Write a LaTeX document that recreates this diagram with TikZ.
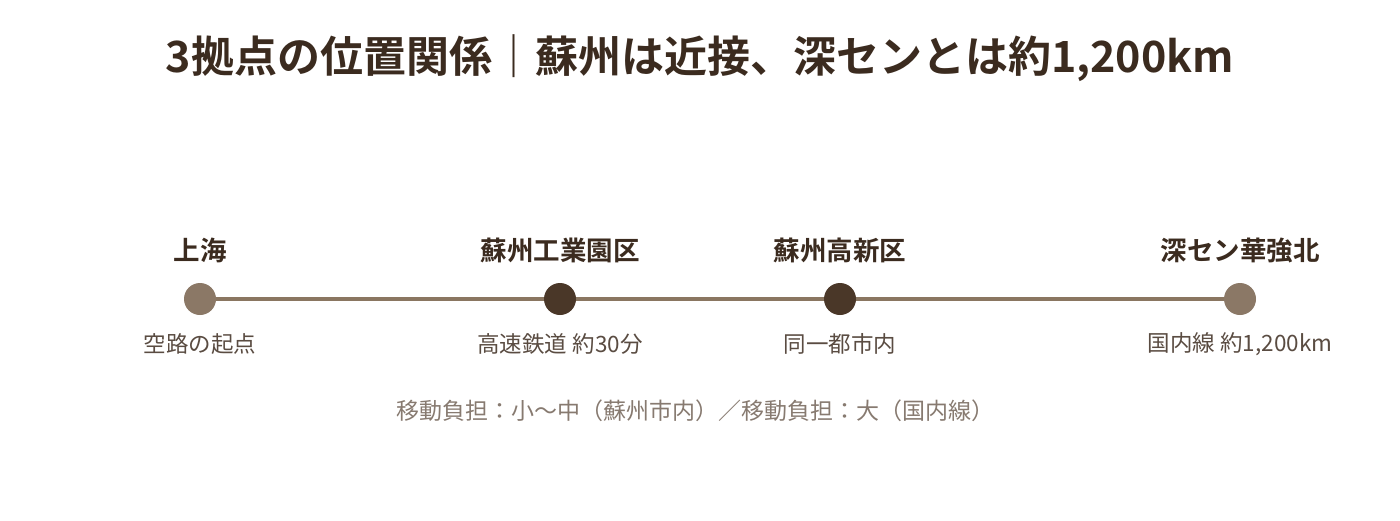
\documentclass[tikz,border=0pt]{standalone}
\usepackage{fontspec}
\usetikzlibrary{backgrounds}
\setmainfont{Noto Sans CJK JP}
\newfontfamily\jpbold{Noto Sans CJK JP Bold}
\definecolor{titlec}{HTML}{3B2B1F}
\definecolor{linec}{HTML}{8A7661}
\definecolor{lightdot}{HTML}{8B7866}
\definecolor{darkdot}{HTML}{4A3728}
\definecolor{subc}{HTML}{5A4C42}
\definecolor{notec}{HTML}{877A70}
\tikzset{
  dotlight/.style={circle, fill=lightdot, minimum size=32pt, inner sep=0pt},
  dotdark/.style={circle, fill=darkdot, minimum size=32pt, inner sep=0pt},
  toplabel/.style={font=\jpbold\fontsize{26.5}{30}\selectfont, text=titlec, inner sep=0pt},
  sublabel/.style={font=\fontsize{22.5}{26}\selectfont, text=subc, inner sep=0pt},
  connector/.style={draw=linec, line width=4pt}
}
\begin{document}
\begin{tikzpicture}[x=1pt,y=-1pt]
\useasboundingbox (0,0) rectangle (1400,520);
\node[font=\jpbold\fontsize{43}{48}\selectfont, text=titlec, inner sep=0pt] (title) at (700,58) {3拠点の位置関係｜蘇州は近接、深センとは約1,200km};
\node[dotlight] (sh) at (200,299) {};
\node[dotdark] (sz1) at (560,299) {};
\node[dotdark] (sz2) at (840,299) {};
\node[dotlight] (szn) at (1240,299) {};
\begin{pgfonlayer}{background}
\fill[white] (0,0) rectangle (1400,520);
\draw[connector] (sh.center) -- (sz1.center);
\draw[connector] (sz1.center) -- (sz2.center);
\draw[connector] (sz2.center) -- (szn.center);
\end{pgfonlayer}
\node[toplabel] (l1) at (200,250) {上海};
\node[toplabel] (l2) at (560,250) {蘇州工業園区};
\node[toplabel] (l3) at (840,250) {蘇州高新区};
\node[toplabel] (l4) at (1240,250) {深セン華強北};
\node[sublabel] (s1) at (200,344) {空路の起点};
\node[sublabel] (s2) at (560,344) {高速鉄道 約30分};
\node[sublabel] (s3) at (840,344) {同一都市内};
\node[sublabel] (s4) at (1240,344) {国内線 約1,200km};
\node[font=\fontsize{23}{26}\selectfont, text=notec, inner sep=0pt] (note) at (695,411) {移動負担：小〜中（蘇州市内）／移動負担：大（国内線）};
\end{tikzpicture}
\end{document}
